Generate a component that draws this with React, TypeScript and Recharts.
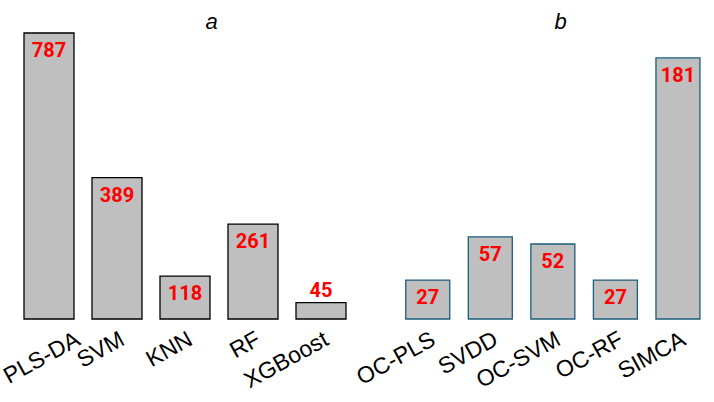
import React from 'react';
import { BarChart, Bar, XAxis, YAxis, LabelList } from 'recharts';

const leftCategories = ['PLS-DA', 'SVM', 'KNN', 'RF', 'XGBoost'];
const leftValues = [787, 389, 118, 261, 45];
const rightCategories = ['OC-PLS', 'SVDD', 'OC-SVM', 'OC-RF', 'SIMCA'];
const rightValues = [27, 57, 52, 27, 181];
const panelTitles = ['a', 'b'];

const leftData = leftCategories.map((name, i) => ({ name, value: leftValues[i] }));
const rightData = rightCategories.map((name, i) => ({ name, value: rightValues[i] }));

const W = 714;
const H = 402;
const TICK_FONT = "'Liberation Sans', Arial, sans-serif";
const TICK_SIZE = 23;
const ANGLE = 29;

let ctx: CanvasRenderingContext2D | null = null;
const measure = (s: string) => {
  try {
    if (!ctx) ctx = document.createElement('canvas').getContext('2d');
    if (ctx) {
      ctx.font = `${TICK_SIZE}px ${TICK_FONT}`;
      return ctx.measureText(s).width;
    }
  } catch (e) {}
  return s.length * TICK_SIZE * 0.6;
};

const RotTick = (props: any) => {
  const { x, y, payload } = props;
  const w = measure(String(payload.value));
  const c = Math.cos((ANGLE * Math.PI) / 180);
  let ex = Number(x) + 9;
  const sx = ex - w * c;
  if (sx < 9) ex += 9 - sx;
  return (
    <text
      transform={`translate(${ex},${Number(y) + 25}) rotate(-${ANGLE})`}
      textAnchor="end"
      fontSize={TICK_SIZE}
      fontFamily={TICK_FONT}
      fill="#000"
    >
      {payload.value}
    </text>
  );
};

const ValueLabel = (props: any) => {
  const { x, y, width, height, value } = props;
  const cx = Number(x) + Number(width) / 2;
  const inside = Number(height) >= 25;
  const ty = inside ? Number(y) + 24 : Number(y) - 6;
  return (
    <text
      x={cx}
      y={ty}
      textAnchor="middle"
      fill="#FF0000"
      fontWeight="bold"
      fontSize={20}
      fontFamily="Roboto, 'Liberation Sans', sans-serif"
    >
      {value}
    </text>
  );
};

const abs: React.CSSProperties = { position: 'absolute', left: 0, top: 0 };

export default function App() {
  return (
    <div style={{ position: 'absolute', left: 0, top: 0, width: W, height: H, background: '#fff' }}>
      <div style={abs}>
        <BarChart width={W} height={H} data={leftData} margin={{ top: 33, bottom: 53, left: 15, right: 359 }}>
          <XAxis dataKey="name" height={30} axisLine={false} tickLine={false} tickSize={0} tickMargin={0} interval={0} tick={<RotTick />} />
          <YAxis hide domain={[0, 787]} />
          <Bar dataKey="value" barSize={50} fill="#BFBFBF" stroke="#000000" strokeWidth={1.3} isAnimationActive={false}>
            <LabelList dataKey="value" content={<ValueLabel />} />
          </Bar>
        </BarChart>
      </div>
      <div style={abs}>
        <BarChart width={W} height={H} data={rightData} margin={{ top: 33, bottom: 53, left: 396.75, right: 4.5 }}>
          <XAxis dataKey="name" height={30} axisLine={false} tickLine={false} tickSize={0} tickMargin={0} interval={0} tick={<RotTick />} />
          <YAxis hide domain={[0, 198.3]} />
          <Bar dataKey="value" barSize={44} fill="#BFBFBF" stroke="#1B5E7E" strokeWidth={1.3} isAnimationActive={false}>
            <LabelList dataKey="value" content={<ValueLabel />} />
          </Bar>
        </BarChart>
      </div>
      <svg width={W} height={H} style={{ ...abs, pointerEvents: 'none' }}>
        <text x={211.7} y={29} textAnchor="middle" fontSize={22} fontStyle="italic" fontFamily={TICK_FONT} fill="#000">
          {panelTitles[0]}
        </text>
        <text x={560.7} y={29} textAnchor="middle" fontSize={22} fontStyle="italic" fontFamily={TICK_FONT} fill="#000">
          {panelTitles[1]}
        </text>
      </svg>
    </div>
  );
}
